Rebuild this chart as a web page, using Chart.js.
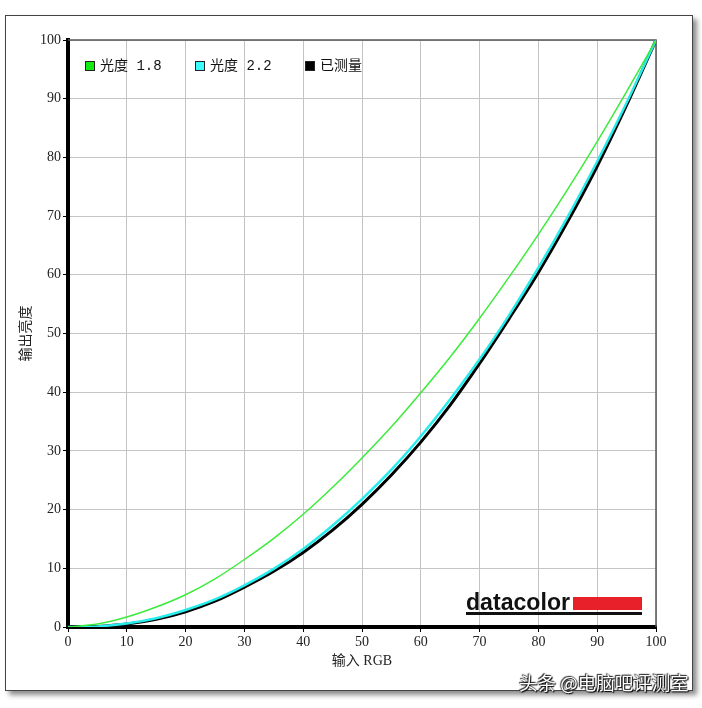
<!DOCTYPE html>
<html>
<head>
<meta charset="utf-8">
<script src="https://cdn.jsdelivr.net/npm/chart.js@4.4.0/dist/chart.umd.min.js"></script>
<style>
  html, body { margin: 0; padding: 0; background: #fff; }
  #wrap { position: relative; width: 702px; height: 708px; }
  #frame {
    position: absolute; left: 5px; top: 15px; width: 686px; height: 674px;
    border: 1px solid #444; background: #fff;
    box-shadow: 4px 4px 5px rgba(0,0,0,0.45);
  }
  #chart { position: absolute; left: 0; top: 0; }
  #mark {
    position: absolute; left: 519px; top: 669px;
    font: 18.5px "Noto Sans CJK SC", sans-serif; color: #fff;
    text-shadow: 0 0 2px #000, 1px 1px 1px #000, -1px -1px 1px #333;
  }
</style>
</head>
<body>
<div id="wrap">
  <div id="frame"></div>
  <canvas id="chart" width="702" height="708"></canvas>
  <div id="mark">头条 @电脑吧评测室</div>
</div>
<script>
var inputLevels = [0, 5, 10, 15, 20, 25, 30, 35, 40, 45, 50, 55, 60, 65, 70, 75, 80, 85, 90, 95, 100];
var gamma18 = [0, 0.5, 1.7, 3.4, 5.5, 8.2, 11.5, 15.1, 19.2, 23.8, 28.8, 34.1, 39.9, 46.0, 52.6, 59.6, 66.9, 74.6, 82.7, 91.2, 100];
var gamma22 = [0, 0.1, 0.6, 1.5, 2.9, 4.7, 7.1, 9.9, 13.3, 17.3, 21.8, 26.8, 32.5, 38.8, 45.6, 53.1, 61.2, 69.9, 79.3, 89.3, 100];
var measured = [0, 0.1, 0.5, 1.3, 2.6, 4.4, 6.8, 9.5, 12.7, 16.5, 20.9, 25.9, 31.5, 37.8, 44.9, 52.5, 60.4, 69.1, 78.5, 88.9, 100];
var tickValues = [0, 10, 20, 30, 40, 50, 60, 70, 80, 90, 100];

function toPoints(arr) {
    return inputLevels.map(function (x, i) { return {x: x, y: arr[i]}; });
}

var tickFont = {family: '"Liberation Serif", "Noto Sans CJK SC", serif', size: 14};

// thin top/right border + datacolor logo
var framePlugin = {
    id: 'frame',
    beforeDatasetsDraw: function (chart) {
        var a = chart.chartArea, ctx = chart.ctx;
        ctx.save();
        ctx.strokeStyle = '#555';
        ctx.lineWidth = 1.5;
        ctx.beginPath();
        ctx.moveTo(a.left, a.top);
        ctx.lineTo(a.right, a.top);
        ctx.lineTo(a.right, a.bottom);
        ctx.stroke();

        // logo
        var lx = a.left + 398, ly = a.bottom - 17;
        ctx.font = 'bold 24px "Liberation Sans", sans-serif';
        var w = ctx.measureText('datacolor').width;
        ctx.fillStyle = '#111';
        ctx.textBaseline = 'alphabetic';
        ctx.save();
        ctx.translate(lx, ly);
        ctx.scale(104 / w, 1);
        ctx.fillText('datacolor', 0, 0);
        ctx.restore();
        ctx.fillStyle = '#e8202a';
        ctx.fillRect(a.left + 505, a.bottom - 30, 69, 13);
        ctx.fillStyle = '#111';
        ctx.fillRect(a.left + 398, a.bottom - 15, 176, 3);
        ctx.restore();
    }
};

// legend inside the plot, items in one row
var insideLegend = {
    id: 'insideLegend',
    afterDatasetsDraw: function (chart) {
        var a = chart.chartArea, ctx = chart.ctx;
        ctx.save();
        ctx.font = '14px "Liberation Mono", "Noto Sans CJK SC", monospace';
        ctx.textBaseline = 'middle';
        chart.data.datasets.forEach(function (ds, i) {
            var bx = a.left + 17 + i * 110, by = a.top + 21;
            ctx.fillStyle = ds.backgroundColor;
            ctx.fillRect(bx, by, 10, 10);
            ctx.strokeStyle = '#222';
            ctx.lineWidth = 1;
            ctx.strokeRect(bx + 0.5, by + 0.5, 9, 9);
            ctx.fillStyle = '#111';
            ctx.fillText(ds.label, bx + 15, by + 5);
        });
        ctx.restore();
    }
};

var ctx = document.getElementById("chart").getContext("2d");
new Chart(ctx, {
    type: 'line',
    data: {
        datasets: [
            {
                label: "光度 1.8",
                data: toPoints(gamma18),
                borderColor: 'rgb(60,235,60)',
                backgroundColor: 'rgb(20,235,20)',
                borderWidth: 1.5,
                order: 1
            },
            {
                label: "光度 2.2",
                data: toPoints(gamma22),
                borderColor: 'rgb(40,235,235)',
                backgroundColor: 'rgb(60,255,255)',
                borderWidth: 2.5,
                order: 2
            },
            {
                label: "已测量",
                data: toPoints(measured),
                borderColor: '#000',
                backgroundColor: '#000',
                borderWidth: 3,
                order: 3
            }
        ]
    },
    options: {
        responsive: false,
        animation: false,
        layout: {padding: {left: 12, top: 40, right: 46, bottom: 36}},
        elements: {
            point: {radius: 0},
            line: {cubicInterpolationMode: 'monotone'}
        },
        plugins: {
            tooltip: {enabled: false},
            legend: {display: false}
        },
        scales: {
            x: {
                type: 'linear',
                min: 0,
                max: 100,
                afterFit: function (scale) { scale.height = 45; },
                afterBuildTicks: function (scale) {
                    scale.ticks = tickValues.map(function (v) { return {value: v}; });
                },
                ticks: {color: '#222', font: tickFont, padding: 2, maxRotation: 0},
                grid: {color: '#c4c4c4', tickColor: '#000', tickLength: 5},
                border: {color: '#000', width: 4},
                title: {
                    display: true,
                    text: '输入 RGB',
                    color: '#222',
                    font: {family: '"Liberation Serif", "Noto Sans CJK SC", serif', size: 14},
                    padding: {top: 2, bottom: 2}
                }
            },
            y: {
                min: 0,
                max: 100,
                afterFit: function (scale) { scale.width = 56; },
                afterBuildTicks: function (scale) {
                    scale.ticks = tickValues.map(function (v) { return {value: v}; });
                },
                ticks: {color: '#222', font: tickFont, padding: 2},
                grid: {color: '#c4c4c4', tickColor: '#000', tickLength: 5},
                border: {color: '#000', width: 4},
                title: {
                    display: true,
                    text: '输出亮度',
                    color: '#222',
                    font: {family: '"Noto Sans CJK SC", sans-serif', size: 14},
                    padding: {top: 4, bottom: 4}
                }
            }
        }
    },
    plugins: [framePlugin, insideLegend]
});
</script>
</body>
</html>
